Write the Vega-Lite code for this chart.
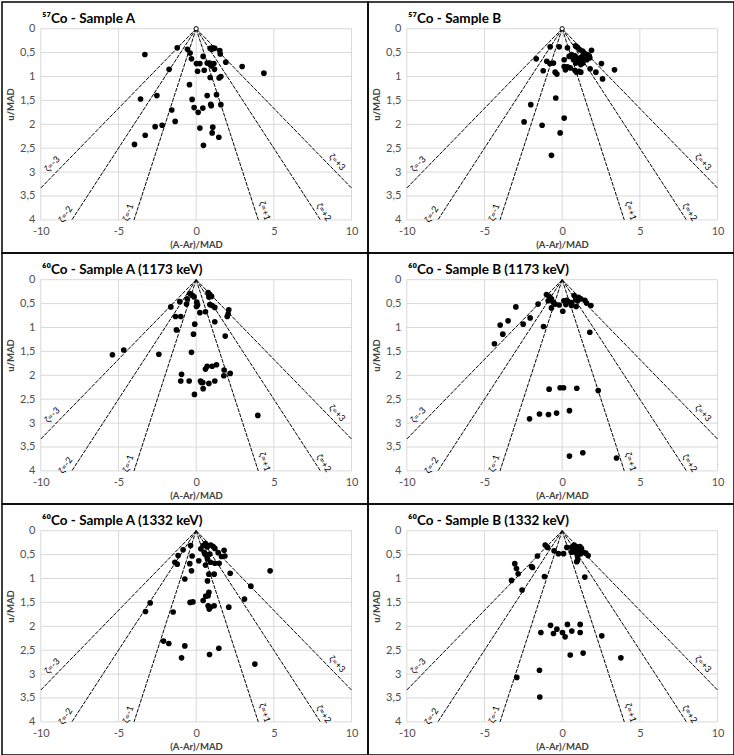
{
  "$schema": "https://vega.github.io/schema/vega-lite/v6.json",
  "background": "white",
  "padding": {"left": 1, "top": 1, "right": 1, "bottom": 1},
  "columns": 2,
  "spacing": 0,
  "bounds": "flush",
  "config": {
    "font": "Lato",
    "view": {"stroke": "#000", "strokeWidth": 1.5},
    "axis": {
      "labelFont": "Lato", "titleFont": "Lato",
      "labelColor": "#505050", "titleColor": "#404040",
      "labelFontSize": 11, "titleFontSize": 9.5, "titleFontWeight": "bold",
      "domain": false, "ticks": false, "grid": false
    },
    "title": {
      "anchor": "start", "frame": "group", "orient": "top",
      "offset": -23, "dx": 40,
      "font": "Lato", "fontSize": 13.5, "fontWeight": "bold", "color": "#000"
    }
  },
  "datasets": {
    "grid": [
      {"dev": -10, "dev2": -10, "u": 0, "u2": 4},
      {"dev": -5, "dev2": -5, "u": 0, "u2": 4},
      {"dev": 0, "dev2": 0, "u": 0, "u2": 4},
      {"dev": 5, "dev2": 5, "u": 0, "u2": 4},
      {"dev": 10, "dev2": 10, "u": 0, "u2": 4},
      {"dev": -10, "dev2": 10, "u": 0, "u2": 0},
      {"dev": -10, "dev2": 10, "u": 0.5, "u2": 0.5},
      {"dev": -10, "dev2": 10, "u": 1, "u2": 1},
      {"dev": -10, "dev2": 10, "u": 1.5, "u2": 1.5},
      {"dev": -10, "dev2": 10, "u": 2, "u2": 2},
      {"dev": -10, "dev2": 10, "u": 2.5, "u2": 2.5},
      {"dev": -10, "dev2": 10, "u": 3, "u2": 3},
      {"dev": -10, "dev2": 10, "u": 3.5, "u2": 3.5},
      {"dev": -10, "dev2": 10, "u": 4, "u2": 4}
    ],
    "zeta_lines": [
      {"zeta": -3, "dev": 0, "u": 0, "dev2": -10, "u2": 3.3333},
      {"zeta": -2, "dev": 0, "u": 0, "dev2": -8, "u2": 4},
      {"zeta": -1, "dev": 0, "u": 0, "dev2": -4, "u2": 4},
      {"zeta": 1, "dev": 0, "u": 0, "dev2": 4, "u2": 4},
      {"zeta": 2, "dev": 0, "u": 0, "dev2": 8, "u2": 4},
      {"zeta": 3, "dev": 0, "u": 0, "dev2": 10, "u2": 3.3333}
    ],
    "zeta_labels": [
      {"zeta": -3, "label": "ζ=-3", "dev": -9.27, "u": 2.83},
      {"zeta": -2, "label": "ζ=-2", "dev": -8.41, "u": 3.88},
      {"zeta": -1, "label": "ζ=-1", "dev": -4.38, "u": 3.84},
      {"zeta": 1, "label": "ζ=+1", "dev": 4.42, "u": 3.81},
      {"zeta": 2, "label": "ζ=+2", "dev": 8.22, "u": 3.84},
      {"zeta": 3, "label": "ζ=+3", "dev": 9.08, "u": 2.79}
    ],
    "points": [
      {"panel": "57A", "dev": -3.30, "u": 0.54}, {"panel": "57A", "dev": -1.22, "u": 0.40}, {"panel": "57A", "dev": -0.56, "u": 0.43},
      {"panel": "57A", "dev": -0.39, "u": 0.51}, {"panel": "57A", "dev": -0.30, "u": 0.63}, {"panel": "57A", "dev": -1.74, "u": 0.85},
      {"panel": "57A", "dev": 0.45, "u": 0.58}, {"panel": "57A", "dev": 0.90, "u": 0.41}, {"panel": "57A", "dev": 1.00, "u": 0.43},
      {"panel": "57A", "dev": 1.07, "u": 0.40}, {"panel": "57A", "dev": 1.20, "u": 0.41}, {"panel": "57A", "dev": 1.52, "u": 0.46},
      {"panel": "57A", "dev": 1.55, "u": 0.53}, {"panel": "57A", "dev": 0.02, "u": 0.73}, {"panel": "57A", "dev": 0.24, "u": 0.73},
      {"panel": "57A", "dev": 0.09, "u": 0.89}, {"panel": "57A", "dev": 0.52, "u": 0.87}, {"panel": "57A", "dev": 0.71, "u": 0.72},
      {"panel": "57A", "dev": 0.86, "u": 0.72}, {"panel": "57A", "dev": 0.99, "u": 0.78}, {"panel": "57A", "dev": 1.14, "u": 0.73},
      {"panel": "57A", "dev": 1.18, "u": 0.85}, {"panel": "57A", "dev": 1.91, "u": 0.70}, {"panel": "57A", "dev": 2.96, "u": 0.79},
      {"panel": "57A", "dev": 4.36, "u": 0.93}, {"panel": "57A", "dev": 0.90, "u": 1.02}, {"panel": "57A", "dev": 1.48, "u": 1.03},
      {"panel": "57A", "dev": 1.59, "u": 1.00}, {"panel": "57A", "dev": -0.43, "u": 1.17}, {"panel": "57A", "dev": -3.58, "u": 1.47},
      {"panel": "57A", "dev": -2.53, "u": 1.40}, {"panel": "57A", "dev": 0.71, "u": 1.40}, {"panel": "57A", "dev": 1.31, "u": 1.38},
      {"panel": "57A", "dev": -0.26, "u": 1.48}, {"panel": "57A", "dev": 0.94, "u": 1.58}, {"panel": "57A", "dev": 0.97, "u": 1.61},
      {"panel": "57A", "dev": 1.59, "u": 1.59}, {"panel": "57A", "dev": -1.57, "u": 1.70}, {"panel": "57A", "dev": -0.13, "u": 1.65},
      {"panel": "57A", "dev": 0.43, "u": 1.66}, {"panel": "57A", "dev": 0.13, "u": 1.75}, {"panel": "57A", "dev": -1.35, "u": 1.94},
      {"panel": "57A", "dev": -2.64, "u": 2.05}, {"panel": "57A", "dev": -2.19, "u": 2.02}, {"panel": "57A", "dev": 0.24, "u": 2.08},
      {"panel": "57A", "dev": 1.07, "u": 2.06}, {"panel": "57A", "dev": 1.03, "u": 2.18}, {"panel": "57A", "dev": 1.46, "u": 2.27},
      {"panel": "57A", "dev": -3.28, "u": 2.23}, {"panel": "57A", "dev": -3.97, "u": 2.42}, {"panel": "57A", "dev": 0.47, "u": 2.44},

      {"panel": "57B", "dev": -1.67, "u": 0.63}, {"panel": "57B", "dev": -0.77, "u": 0.38}, {"panel": "57B", "dev": -0.19, "u": 0.38},
      {"panel": "57B", "dev": -0.99, "u": 0.68}, {"panel": "57B", "dev": -0.79, "u": 0.73}, {"panel": "57B", "dev": -0.56, "u": 0.72},
      {"panel": "57B", "dev": -1.22, "u": 0.88}, {"panel": "57B", "dev": -0.45, "u": 0.91}, {"panel": "57B", "dev": -0.34, "u": 0.95},
      {"panel": "57B", "dev": 0.34, "u": 0.40}, {"panel": "57B", "dev": 0.86, "u": 0.36}, {"panel": "57B", "dev": 0.99, "u": 0.39},
      {"panel": "57B", "dev": 1.14, "u": 0.44}, {"panel": "57B", "dev": 1.31, "u": 0.47}, {"panel": "57B", "dev": 1.42, "u": 0.51},
      {"panel": "57B", "dev": 1.63, "u": 0.54}, {"panel": "57B", "dev": 1.89, "u": 0.45}, {"panel": "57B", "dev": 1.74, "u": 0.57},
      {"panel": "57B", "dev": 1.78, "u": 0.61}, {"panel": "57B", "dev": 0.45, "u": 0.58}, {"panel": "57B", "dev": 0.60, "u": 0.54},
      {"panel": "57B", "dev": 0.82, "u": 0.57}, {"panel": "57B", "dev": 0.94, "u": 0.61}, {"panel": "57B", "dev": 1.12, "u": 0.63},
      {"panel": "57B", "dev": 1.31, "u": 0.58}, {"panel": "57B", "dev": 1.42, "u": 0.63}, {"panel": "57B", "dev": 1.59, "u": 0.65},
      {"panel": "57B", "dev": 0.73, "u": 0.65}, {"panel": "57B", "dev": 0.88, "u": 0.72}, {"panel": "57B", "dev": 1.05, "u": 0.68},
      {"panel": "57B", "dev": 1.20, "u": 0.75}, {"panel": "57B", "dev": 0.13, "u": 0.65}, {"panel": "57B", "dev": 0.13, "u": 0.79},
      {"panel": "57B", "dev": 0.21, "u": 0.86}, {"panel": "57B", "dev": 0.34, "u": 0.80}, {"panel": "57B", "dev": 0.52, "u": 0.82},
      {"panel": "57B", "dev": 0.82, "u": 0.87}, {"panel": "57B", "dev": 0.92, "u": 0.91}, {"panel": "57B", "dev": 1.09, "u": 0.89},
      {"panel": "57B", "dev": 1.20, "u": 0.91}, {"panel": "57B", "dev": 1.33, "u": 0.72}, {"panel": "57B", "dev": 1.80, "u": 0.84},
      {"panel": "57B", "dev": 2.17, "u": 0.91}, {"panel": "57B", "dev": 2.53, "u": 0.73}, {"panel": "57B", "dev": 2.60, "u": 1.05},
      {"panel": "57B", "dev": 3.37, "u": 0.86}, {"panel": "57B", "dev": -0.41, "u": 1.45}, {"panel": "57B", "dev": -2.02, "u": 1.59},
      {"panel": "57B", "dev": 0.13, "u": 1.87}, {"panel": "57B", "dev": -2.45, "u": 1.95}, {"panel": "57B", "dev": -1.29, "u": 2.02},
      {"panel": "57B", "dev": -0.13, "u": 2.18}, {"panel": "57B", "dev": -0.69, "u": 2.65},

      {"panel": "60A1173", "dev": -1.63, "u": 0.57}, {"panel": "60A1173", "dev": -1.05, "u": 0.46}, {"panel": "60A1173", "dev": -0.58, "u": 0.40},
      {"panel": "60A1173", "dev": -0.41, "u": 0.29}, {"panel": "60A1173", "dev": -0.26, "u": 0.32}, {"panel": "60A1173", "dev": -0.13, "u": 0.36},
      {"panel": "60A1173", "dev": -0.62, "u": 0.51}, {"panel": "60A1173", "dev": 0.04, "u": 0.47}, {"panel": "60A1173", "dev": 0.09, "u": 0.53},
      {"panel": "60A1173", "dev": 0.02, "u": 0.56}, {"panel": "60A1173", "dev": -1.33, "u": 0.77}, {"panel": "60A1173", "dev": -0.99, "u": 0.77},
      {"panel": "60A1173", "dev": -1.27, "u": 1.05}, {"panel": "60A1173", "dev": 0.24, "u": 0.69}, {"panel": "60A1173", "dev": -0.09, "u": 0.93},
      {"panel": "60A1173", "dev": -0.17, "u": 1.14}, {"panel": "60A1173", "dev": 0.60, "u": 0.67}, {"panel": "60A1173", "dev": 0.77, "u": 0.27},
      {"panel": "60A1173", "dev": 0.88, "u": 0.31}, {"panel": "60A1173", "dev": 0.99, "u": 0.35}, {"panel": "60A1173", "dev": 0.82, "u": 0.36},
      {"panel": "60A1173", "dev": 0.88, "u": 0.52}, {"panel": "60A1173", "dev": 1.03, "u": 0.54}, {"panel": "60A1173", "dev": 1.20, "u": 0.58},
      {"panel": "60A1173", "dev": 1.20, "u": 0.88}, {"panel": "60A1173", "dev": 2.10, "u": 0.63}, {"panel": "60A1173", "dev": 2.06, "u": 0.72},
      {"panel": "60A1173", "dev": 2.00, "u": 0.77}, {"panel": "60A1173", "dev": 1.87, "u": 1.18}, {"panel": "60A1173", "dev": -5.39, "u": 1.57},
      {"panel": "60A1173", "dev": -4.66, "u": 1.47}, {"panel": "60A1173", "dev": -2.40, "u": 1.56}, {"panel": "60A1173", "dev": -0.30, "u": 1.52},
      {"panel": "60A1173", "dev": 0.60, "u": 1.87}, {"panel": "60A1173", "dev": 0.71, "u": 1.81}, {"panel": "60A1173", "dev": 1.03, "u": 1.81},
      {"panel": "60A1173", "dev": 1.31, "u": 1.78}, {"panel": "60A1173", "dev": 1.80, "u": 1.89}, {"panel": "60A1173", "dev": 2.19, "u": 1.96},
      {"panel": "60A1173", "dev": 1.78, "u": 2.01}, {"panel": "60A1173", "dev": -0.94, "u": 1.98}, {"panel": "60A1173", "dev": -0.99, "u": 2.12},
      {"panel": "60A1173", "dev": -0.45, "u": 2.12}, {"panel": "60A1173", "dev": 0.28, "u": 2.12}, {"panel": "60A1173", "dev": 0.34, "u": 2.15},
      {"panel": "60A1173", "dev": 0.43, "u": 2.15}, {"panel": "60A1173", "dev": 0.82, "u": 2.17}, {"panel": "60A1173", "dev": 1.20, "u": 2.12},
      {"panel": "60A1173", "dev": 0.45, "u": 2.28}, {"panel": "60A1173", "dev": -0.11, "u": 2.40}, {"panel": "60A1173", "dev": 3.97, "u": 2.84},

      {"panel": "60B1173", "dev": -1.01, "u": 0.31}, {"panel": "60B1173", "dev": -0.84, "u": 0.35}, {"panel": "60B1173", "dev": -0.69, "u": 0.40},
      {"panel": "60B1173", "dev": -0.90, "u": 0.44}, {"panel": "60B1173", "dev": -0.58, "u": 0.47}, {"panel": "60B1173", "dev": -0.45, "u": 0.51},
      {"panel": "60B1173", "dev": -0.19, "u": 0.53}, {"panel": "60B1173", "dev": -1.55, "u": 0.51}, {"panel": "60B1173", "dev": -2.98, "u": 0.57},
      {"panel": "60B1173", "dev": -0.69, "u": 0.59}, {"panel": "60B1173", "dev": 0.04, "u": 0.66}, {"panel": "60B1173", "dev": 0.11, "u": 0.44},
      {"panel": "60B1173", "dev": 0.30, "u": 0.43}, {"panel": "60B1173", "dev": 0.39, "u": 0.46}, {"panel": "60B1173", "dev": 0.24, "u": 0.52},
      {"panel": "60B1173", "dev": 0.62, "u": 0.48}, {"panel": "60B1173", "dev": 0.77, "u": 0.33}, {"panel": "60B1173", "dev": 0.88, "u": 0.41},
      {"panel": "60B1173", "dev": 0.99, "u": 0.44}, {"panel": "60B1173", "dev": 1.05, "u": 0.37}, {"panel": "60B1173", "dev": 1.20, "u": 0.40},
      {"panel": "60B1173", "dev": 1.46, "u": 0.43}, {"panel": "60B1173", "dev": 1.57, "u": 0.49}, {"panel": "60B1173", "dev": 1.85, "u": 0.54},
      {"panel": "60B1173", "dev": 0.90, "u": 0.56}, {"panel": "60B1173", "dev": 0.60, "u": 0.54}, {"panel": "60B1173", "dev": -3.48, "u": 0.86},
      {"panel": "60B1173", "dev": -3.99, "u": 0.95}, {"panel": "60B1173", "dev": -3.82, "u": 1.14}, {"panel": "60B1173", "dev": -4.36, "u": 1.34},
      {"panel": "60B1173", "dev": -2.51, "u": 0.93}, {"panel": "60B1173", "dev": -2.06, "u": 0.80}, {"panel": "60B1173", "dev": -1.20, "u": 0.98},
      {"panel": "60B1173", "dev": 1.78, "u": 1.10}, {"panel": "60B1173", "dev": -0.84, "u": 2.29}, {"panel": "60B1173", "dev": -0.13, "u": 2.26},
      {"panel": "60B1173", "dev": 0.09, "u": 2.26}, {"panel": "60B1173", "dev": 0.94, "u": 2.27}, {"panel": "60B1173", "dev": 2.32, "u": 2.32},
      {"panel": "60B1173", "dev": -2.10, "u": 2.91}, {"panel": "60B1173", "dev": -1.46, "u": 2.81}, {"panel": "60B1173", "dev": -0.88, "u": 2.82},
      {"panel": "60B1173", "dev": -0.36, "u": 2.79}, {"panel": "60B1173", "dev": 0.47, "u": 2.74}, {"panel": "60B1173", "dev": 0.47, "u": 3.69},
      {"panel": "60B1173", "dev": 1.33, "u": 3.62}, {"panel": "60B1173", "dev": 3.50, "u": 3.73},

      {"panel": "60A1332", "dev": -0.84, "u": 0.40}, {"panel": "60A1332", "dev": -0.36, "u": 0.31}, {"panel": "60A1332", "dev": -1.16, "u": 0.52},
      {"panel": "60A1332", "dev": -1.37, "u": 0.66}, {"panel": "60A1332", "dev": -1.22, "u": 0.70}, {"panel": "60A1332", "dev": -0.26, "u": 0.53},
      {"panel": "60A1332", "dev": -0.41, "u": 0.69}, {"panel": "60A1332", "dev": -0.30, "u": 0.84}, {"panel": "60A1332", "dev": -0.73, "u": 1.01},
      {"panel": "60A1332", "dev": 0.30, "u": 0.38}, {"panel": "60A1332", "dev": 0.45, "u": 0.31}, {"panel": "60A1332", "dev": 0.60, "u": 0.27},
      {"panel": "60A1332", "dev": 0.71, "u": 0.34}, {"panel": "60A1332", "dev": 0.94, "u": 0.30}, {"panel": "60A1332", "dev": 1.09, "u": 0.33},
      {"panel": "60A1332", "dev": 1.20, "u": 0.37}, {"panel": "60A1332", "dev": 0.52, "u": 0.45}, {"panel": "60A1332", "dev": 0.56, "u": 0.49},
      {"panel": "60A1332", "dev": 0.71, "u": 0.50}, {"panel": "60A1332", "dev": 0.88, "u": 0.49}, {"panel": "60A1332", "dev": 1.42, "u": 0.46},
      {"panel": "60A1332", "dev": 1.63, "u": 0.54}, {"panel": "60A1332", "dev": 1.80, "u": 0.41}, {"panel": "60A1332", "dev": 1.85, "u": 0.53},
      {"panel": "60A1332", "dev": 0.17, "u": 0.63}, {"panel": "60A1332", "dev": 0.60, "u": 0.72}, {"panel": "60A1332", "dev": 0.73, "u": 0.59},
      {"panel": "60A1332", "dev": 0.92, "u": 0.66}, {"panel": "60A1332", "dev": 1.20, "u": 0.68}, {"panel": "60A1332", "dev": 1.48, "u": 0.68},
      {"panel": "60A1332", "dev": 0.82, "u": 0.91}, {"panel": "60A1332", "dev": 1.16, "u": 0.91}, {"panel": "60A1332", "dev": 2.19, "u": 0.89},
      {"panel": "60A1332", "dev": 4.76, "u": 0.84}, {"panel": "60A1332", "dev": 0.73, "u": 1.05}, {"panel": "60A1332", "dev": 3.52, "u": 1.16},
      {"panel": "60A1332", "dev": 0.82, "u": 1.29}, {"panel": "60A1332", "dev": 0.77, "u": 1.36}, {"panel": "60A1332", "dev": 0.62, "u": 1.37},
      {"panel": "60A1332", "dev": 0.45, "u": 1.46}, {"panel": "60A1332", "dev": -0.39, "u": 1.50}, {"panel": "60A1332", "dev": -0.21, "u": 1.49},
      {"panel": "60A1332", "dev": 3.11, "u": 1.43}, {"panel": "60A1332", "dev": 0.77, "u": 1.57}, {"panel": "60A1332", "dev": 0.92, "u": 1.60},
      {"panel": "60A1332", "dev": 0.84, "u": 1.64}, {"panel": "60A1332", "dev": 1.16, "u": 1.57}, {"panel": "60A1332", "dev": 2.10, "u": 1.60},
      {"panel": "60A1332", "dev": -2.96, "u": 1.51}, {"panel": "60A1332", "dev": -3.26, "u": 1.69}, {"panel": "60A1332", "dev": -1.48, "u": 1.70},
      {"panel": "60A1332", "dev": -2.10, "u": 2.31}, {"panel": "60A1332", "dev": -1.76, "u": 2.36}, {"panel": "60A1332", "dev": -0.73, "u": 2.41},
      {"panel": "60A1332", "dev": 1.46, "u": 2.46}, {"panel": "60A1332", "dev": 0.86, "u": 2.59}, {"panel": "60A1332", "dev": -0.94, "u": 2.66},
      {"panel": "60A1332", "dev": 3.78, "u": 2.79},

      {"panel": "60B1332", "dev": -1.09, "u": 0.30}, {"panel": "60B1332", "dev": -0.94, "u": 0.35}, {"panel": "60B1332", "dev": -1.59, "u": 0.53},
      {"panel": "60B1332", "dev": -0.52, "u": 0.42}, {"panel": "60B1332", "dev": -0.24, "u": 0.48}, {"panel": "60B1332", "dev": 0.09, "u": 0.48},
      {"panel": "60B1332", "dev": -3.05, "u": 0.69}, {"panel": "60B1332", "dev": -2.94, "u": 0.79}, {"panel": "60B1332", "dev": -2.83, "u": 0.90},
      {"panel": "60B1332", "dev": -3.26, "u": 1.04}, {"panel": "60B1332", "dev": -1.97, "u": 0.75}, {"panel": "60B1332", "dev": -1.91, "u": 0.77},
      {"panel": "60B1332", "dev": -2.58, "u": 1.24}, {"panel": "60B1332", "dev": -1.14, "u": 0.96}, {"panel": "60B1332", "dev": 0.30, "u": 0.35},
      {"panel": "60B1332", "dev": 0.60, "u": 0.35}, {"panel": "60B1332", "dev": 0.77, "u": 0.30}, {"panel": "60B1332", "dev": 0.88, "u": 0.33},
      {"panel": "60B1332", "dev": 0.99, "u": 0.35}, {"panel": "60B1332", "dev": 1.14, "u": 0.33}, {"panel": "60B1332", "dev": 1.24, "u": 0.37},
      {"panel": "60B1332", "dev": 1.37, "u": 0.45}, {"panel": "60B1332", "dev": 1.52, "u": 0.47}, {"panel": "60B1332", "dev": 1.67, "u": 0.52},
      {"panel": "60B1332", "dev": 0.60, "u": 0.45}, {"panel": "60B1332", "dev": 0.73, "u": 0.40}, {"panel": "60B1332", "dev": 0.88, "u": 0.46},
      {"panel": "60B1332", "dev": 1.05, "u": 0.44}, {"panel": "60B1332", "dev": 1.20, "u": 0.48}, {"panel": "60B1332", "dev": 0.99, "u": 0.54},
      {"panel": "60B1332", "dev": 0.99, "u": 0.62}, {"panel": "60B1332", "dev": 0.94, "u": 0.65}, {"panel": "60B1332", "dev": 1.46, "u": 0.97},
      {"panel": "60B1332", "dev": 0.34, "u": 1.96}, {"panel": "60B1332", "dev": 1.16, "u": 1.96}, {"panel": "60B1332", "dev": -0.75, "u": 1.98},
      {"panel": "60B1332", "dev": -0.34, "u": 2.06}, {"panel": "60B1332", "dev": -0.56, "u": 2.15}, {"panel": "60B1332", "dev": -1.37, "u": 2.13},
      {"panel": "60B1332", "dev": 0.02, "u": 2.13}, {"panel": "60B1332", "dev": 0.19, "u": 2.22}, {"panel": "60B1332", "dev": 0.62, "u": 2.10},
      {"panel": "60B1332", "dev": 1.16, "u": 2.13}, {"panel": "60B1332", "dev": 2.55, "u": 2.20}, {"panel": "60B1332", "dev": 0.52, "u": 2.60},
      {"panel": "60B1332", "dev": 1.35, "u": 2.56}, {"panel": "60B1332", "dev": 3.78, "u": 2.66}, {"panel": "60B1332", "dev": -1.46, "u": 2.92},
      {"panel": "60B1332", "dev": -2.92, "u": 3.07}, {"panel": "60B1332", "dev": -1.44, "u": 3.48}
    ]
  },
  "concat": [
    {
      "width": 366, "height": 251,
      "title": {"text": "⁵⁷Co - Sample A"},
      "encoding": {
        "x": {"field": "dev", "type": "quantitative", "scale": {"domain": [-12.498, 11.062], "nice": false, "zero": false},
              "axis": {"values": [-10, -5, 0, 5, 10], "title": "(A-Ar)/MAD", "offset": -33.1, "labelPadding": 6, "titlePadding": 3, "titleX": 194, "labelExpr": "toString(datum.value)"}},
        "y": {"field": "u", "type": "quantitative", "scale": {"domain": [-0.5586, 4.6925], "reverse": true, "nice": false, "zero": false},
              "axis": {"values": [0, 0.5, 1, 1.5, 2, 2.5, 3, 3.5, 4], "title": "u/MAD", "offset": -38.8, "labelPadding": 6, "titlePadding": 4, "titleY": 102, "labelExpr": "replace(toString(datum.value), '.', ',')"}}
      },
      "layer": [
        {"data": {"name": "grid"}, "mark": {"type": "rule", "color": "#d9d9d9", "strokeWidth": 1}, "encoding": {"x2": {"field": "dev2"}, "y2": {"field": "u2"}}},
        {"data": {"name": "zeta_lines"}, "mark": {"type": "rule", "color": "#000", "strokeWidth": 1, "strokeDash": [4, 1.2]}, "encoding": {"x2": {"field": "dev2"}, "y2": {"field": "u2"}}},
        {"data": {"name": "zeta_labels"}, "mark": {"type": "text", "fontSize": 9, "color": "#000", "baseline": "middle", "align": "center"},
         "encoding": {"text": {"field": "label"}, "angle": {"field": "zeta", "type": "ordinal", "scale": {"type": "ordinal", "domain": [-3, -2, -1, 1, 2, 3], "range": [-46, -57, -72, 72, 57, 46]}, "legend": null}}},
        {"data": {"name": "points"}, "transform": [{"filter": "datum.panel == '57A'"}], "mark": {"type": "circle", "color": "#000", "size": 32, "opacity": 1}},
        {"data": {"values": [{"dev": 0, "u": 0}]}, "mark": {"type": "point", "shape": "circle", "filled": true, "fill": "#fff", "stroke": "#000", "strokeWidth": 1, "size": 18, "opacity": 1}}
      ]
    },
    {
      "width": 366, "height": 251,
      "title": {"text": "⁵⁷Co - Sample B"},
      "encoding": {
        "x": {"field": "dev", "type": "quantitative", "scale": {"domain": [-12.498, 11.062], "nice": false, "zero": false},
              "axis": {"values": [-10, -5, 0, 5, 10], "title": "(A-Ar)/MAD", "offset": -33.1, "labelPadding": 6, "titlePadding": 3, "titleX": 194, "labelExpr": "toString(datum.value)"}},
        "y": {"field": "u", "type": "quantitative", "scale": {"domain": [-0.5586, 4.6925], "reverse": true, "nice": false, "zero": false},
              "axis": {"values": [0, 0.5, 1, 1.5, 2, 2.5, 3, 3.5, 4], "title": "u/MAD", "offset": -38.8, "labelPadding": 6, "titlePadding": 4, "titleY": 102, "labelExpr": "replace(toString(datum.value), '.', ',')"}}
      },
      "layer": [
        {"data": {"name": "grid"}, "mark": {"type": "rule", "color": "#d9d9d9", "strokeWidth": 1}, "encoding": {"x2": {"field": "dev2"}, "y2": {"field": "u2"}}},
        {"data": {"name": "zeta_lines"}, "mark": {"type": "rule", "color": "#000", "strokeWidth": 1, "strokeDash": [4, 1.2]}, "encoding": {"x2": {"field": "dev2"}, "y2": {"field": "u2"}}},
        {"data": {"name": "zeta_labels"}, "mark": {"type": "text", "fontSize": 9, "color": "#000", "baseline": "middle", "align": "center"},
         "encoding": {"text": {"field": "label"}, "angle": {"field": "zeta", "type": "ordinal", "scale": {"type": "ordinal", "domain": [-3, -2, -1, 1, 2, 3], "range": [-46, -57, -72, 72, 57, 46]}, "legend": null}}},
        {"data": {"name": "points"}, "transform": [{"filter": "datum.panel == '57B'"}], "mark": {"type": "circle", "color": "#000", "size": 32, "opacity": 1}},
        {"data": {"values": [{"dev": 0, "u": 0}]}, "mark": {"type": "point", "shape": "circle", "filled": true, "fill": "#fff", "stroke": "#000", "strokeWidth": 1, "size": 18, "opacity": 1}}
      ]
    },
    {
      "width": 366, "height": 251,
      "title": {"text": "⁶⁰Co - Sample A (1173 keV)"},
      "encoding": {
        "x": {"field": "dev", "type": "quantitative", "scale": {"domain": [-12.498, 11.062], "nice": false, "zero": false},
              "axis": {"values": [-10, -5, 0, 5, 10], "title": "(A-Ar)/MAD", "offset": -33.1, "labelPadding": 6, "titlePadding": 3, "titleX": 194, "labelExpr": "toString(datum.value)"}},
        "y": {"field": "u", "type": "quantitative", "scale": {"domain": [-0.5586, 4.6925], "reverse": true, "nice": false, "zero": false},
              "axis": {"values": [0, 0.5, 1, 1.5, 2, 2.5, 3, 3.5, 4], "title": "u/MAD", "offset": -38.8, "labelPadding": 6, "titlePadding": 4, "titleY": 102, "labelExpr": "replace(toString(datum.value), '.', ',')"}}
      },
      "layer": [
        {"data": {"name": "grid"}, "mark": {"type": "rule", "color": "#d9d9d9", "strokeWidth": 1}, "encoding": {"x2": {"field": "dev2"}, "y2": {"field": "u2"}}},
        {"data": {"name": "zeta_lines"}, "mark": {"type": "rule", "color": "#000", "strokeWidth": 1, "strokeDash": [4, 1.2]}, "encoding": {"x2": {"field": "dev2"}, "y2": {"field": "u2"}}},
        {"data": {"name": "zeta_labels"}, "mark": {"type": "text", "fontSize": 9, "color": "#000", "baseline": "middle", "align": "center"},
         "encoding": {"text": {"field": "label"}, "angle": {"field": "zeta", "type": "ordinal", "scale": {"type": "ordinal", "domain": [-3, -2, -1, 1, 2, 3], "range": [-46, -57, -72, 72, 57, 46]}, "legend": null}}},
        {"data": {"name": "points"}, "transform": [{"filter": "datum.panel == '60A1173'"}], "mark": {"type": "circle", "color": "#000", "size": 32, "opacity": 1}}
      ]
    },
    {
      "width": 366, "height": 251,
      "title": {"text": "⁶⁰Co - Sample B (1173 keV)"},
      "encoding": {
        "x": {"field": "dev", "type": "quantitative", "scale": {"domain": [-12.498, 11.062], "nice": false, "zero": false},
              "axis": {"values": [-10, -5, 0, 5, 10], "title": "(A-Ar)/MAD", "offset": -33.1, "labelPadding": 6, "titlePadding": 3, "titleX": 194, "labelExpr": "toString(datum.value)"}},
        "y": {"field": "u", "type": "quantitative", "scale": {"domain": [-0.5586, 4.6925], "reverse": true, "nice": false, "zero": false},
              "axis": {"values": [0, 0.5, 1, 1.5, 2, 2.5, 3, 3.5, 4], "title": "u/MAD", "offset": -38.8, "labelPadding": 6, "titlePadding": 4, "titleY": 102, "labelExpr": "replace(toString(datum.value), '.', ',')"}}
      },
      "layer": [
        {"data": {"name": "grid"}, "mark": {"type": "rule", "color": "#d9d9d9", "strokeWidth": 1}, "encoding": {"x2": {"field": "dev2"}, "y2": {"field": "u2"}}},
        {"data": {"name": "zeta_lines"}, "mark": {"type": "rule", "color": "#000", "strokeWidth": 1, "strokeDash": [4, 1.2]}, "encoding": {"x2": {"field": "dev2"}, "y2": {"field": "u2"}}},
        {"data": {"name": "zeta_labels"}, "mark": {"type": "text", "fontSize": 9, "color": "#000", "baseline": "middle", "align": "center"},
         "encoding": {"text": {"field": "label"}, "angle": {"field": "zeta", "type": "ordinal", "scale": {"type": "ordinal", "domain": [-3, -2, -1, 1, 2, 3], "range": [-46, -57, -72, 72, 57, 46]}, "legend": null}}},
        {"data": {"name": "points"}, "transform": [{"filter": "datum.panel == '60B1173'"}], "mark": {"type": "circle", "color": "#000", "size": 32, "opacity": 1}}
      ]
    },
    {
      "width": 366, "height": 251,
      "title": {"text": "⁶⁰Co - Sample A (1332 keV)"},
      "encoding": {
        "x": {"field": "dev", "type": "quantitative", "scale": {"domain": [-12.498, 11.062], "nice": false, "zero": false},
              "axis": {"values": [-10, -5, 0, 5, 10], "title": "(A-Ar)/MAD", "offset": -33.1, "labelPadding": 6, "titlePadding": 3, "titleX": 194, "labelExpr": "toString(datum.value)"}},
        "y": {"field": "u", "type": "quantitative", "scale": {"domain": [-0.5586, 4.6925], "reverse": true, "nice": false, "zero": false},
              "axis": {"values": [0, 0.5, 1, 1.5, 2, 2.5, 3, 3.5, 4], "title": "u/MAD", "offset": -38.8, "labelPadding": 6, "titlePadding": 4, "titleY": 102, "labelExpr": "replace(toString(datum.value), '.', ',')"}}
      },
      "layer": [
        {"data": {"name": "grid"}, "mark": {"type": "rule", "color": "#d9d9d9", "strokeWidth": 1}, "encoding": {"x2": {"field": "dev2"}, "y2": {"field": "u2"}}},
        {"data": {"name": "zeta_lines"}, "mark": {"type": "rule", "color": "#000", "strokeWidth": 1, "strokeDash": [4, 1.2]}, "encoding": {"x2": {"field": "dev2"}, "y2": {"field": "u2"}}},
        {"data": {"name": "zeta_labels"}, "mark": {"type": "text", "fontSize": 9, "color": "#000", "baseline": "middle", "align": "center"},
         "encoding": {"text": {"field": "label"}, "angle": {"field": "zeta", "type": "ordinal", "scale": {"type": "ordinal", "domain": [-3, -2, -1, 1, 2, 3], "range": [-46, -57, -72, 72, 57, 46]}, "legend": null}}},
        {"data": {"name": "points"}, "transform": [{"filter": "datum.panel == '60A1332'"}], "mark": {"type": "circle", "color": "#000", "size": 32, "opacity": 1}}
      ]
    },
    {
      "width": 366, "height": 251,
      "title": {"text": "⁶⁰Co - Sample B (1332 keV)"},
      "encoding": {
        "x": {"field": "dev", "type": "quantitative", "scale": {"domain": [-12.498, 11.062], "nice": false, "zero": false},
              "axis": {"values": [-10, -5, 0, 5, 10], "title": "(A-Ar)/MAD", "offset": -33.1, "labelPadding": 6, "titlePadding": 3, "titleX": 194, "labelExpr": "toString(datum.value)"}},
        "y": {"field": "u", "type": "quantitative", "scale": {"domain": [-0.5586, 4.6925], "reverse": true, "nice": false, "zero": false},
              "axis": {"values": [0, 0.5, 1, 1.5, 2, 2.5, 3, 3.5, 4], "title": "u/MAD", "offset": -38.8, "labelPadding": 6, "titlePadding": 4, "titleY": 102, "labelExpr": "replace(toString(datum.value), '.', ',')"}}
      },
      "layer": [
        {"data": {"name": "grid"}, "mark": {"type": "rule", "color": "#d9d9d9", "strokeWidth": 1}, "encoding": {"x2": {"field": "dev2"}, "y2": {"field": "u2"}}},
        {"data": {"name": "zeta_lines"}, "mark": {"type": "rule", "color": "#000", "strokeWidth": 1, "strokeDash": [4, 1.2]}, "encoding": {"x2": {"field": "dev2"}, "y2": {"field": "u2"}}},
        {"data": {"name": "zeta_labels"}, "mark": {"type": "text", "fontSize": 9, "color": "#000", "baseline": "middle", "align": "center"},
         "encoding": {"text": {"field": "label"}, "angle": {"field": "zeta", "type": "ordinal", "scale": {"type": "ordinal", "domain": [-3, -2, -1, 1, 2, 3], "range": [-46, -57, -72, 72, 57, 46]}, "legend": null}}},
        {"data": {"name": "points"}, "transform": [{"filter": "datum.panel == '60B1332'"}], "mark": {"type": "circle", "color": "#000", "size": 32, "opacity": 1}}
      ]
    }
  ]
}
